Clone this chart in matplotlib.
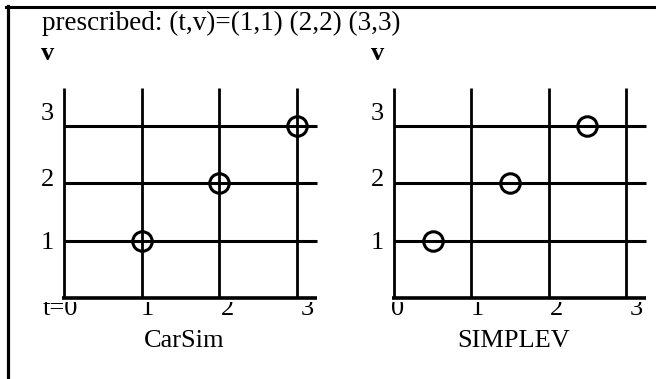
import matplotlib
matplotlib.use("Agg")
import matplotlib.pyplot as plt
from matplotlib.patches import Rectangle
from matplotlib.lines import Line2D
import matplotlib.transforms as mtransforms

# ---------------- data ----------------
title_text = "prescribed: (t,v)=(1,1) (2,2) (3,3)"
panel_names = ["CarSim", "SIMPLEV"]
grid_t = [0, 1, 2, 3]
grid_v = [1, 2, 3]
ytick_labels = ["1", "2", "3"]
xtick_labels_left = ["t=0", "1", "2", "3"]
xtick_labels_right = ["0", "1", "2", "3"]
carsim_t = [1, 2, 3]
carsim_v = [1, 2, 3]
simplev_t = [0.5, 1.5, 2.5]
simplev_v = [1, 2, 3]

# ---------------- layout ----------------
W, H = 656, 379
DPI = 100
FONT = "Liberation Serif"
FS = 19
YTICK_NUDGE_PX = [-2, 3, 12]   # small vertical nudges of the y tick labels (scan look)

fig = plt.figure(figsize=(W / DPI, H / DPI), dpi=DPI)
fig.patch.set_facecolor("white")

XLIM = (-0.6, 3.5)
YLIM = (-0.6, 3.9)


def place_axes(x0px, x3px, y0px, y3px):
    sx = (x3px - x0px) / 3.0
    sy = (y0px - y3px) / 3.0
    left = x0px + XLIM[0] * sx
    right = x0px + XLIM[1] * sx
    top = y0px - YLIM[1] * sy
    bottom = y0px - YLIM[0] * sy
    ax = fig.add_axes([left / W, 1 - bottom / H, (right - left) / W, (bottom - top) / H])
    ax.set_xlim(*XLIM)
    ax.set_ylim(*YLIM)
    ax.axis("off")
    return ax


clip_rect = Rectangle((0, 0), 1, 1 - 301.5 / H, transform=fig.transFigure,
                      facecolor="none", edgecolor="none")


def draw_panel(ax, t, v, name, xlabels, x0px):
    # grid lines
    ax.vlines(grid_t, 0, 3.66, colors="black", lw=2.0, clip_on=False)
    ax.hlines(grid_v, 0, 3.26, colors="black", lw=2.2, clip_on=False)
    ax.hlines([0], -0.02, 3.26, colors="black", lw=2.6, clip_on=False)
    # points
    ax.plot(t, v, "o", mfc="none", mec="black", ms=14, mew=2.2, clip_on=False)
    # y tick labels
    for val, lab, nud in zip(grid_v, ytick_labels, YTICK_NUDGE_PX):
        off_y = mtransforms.offset_copy(ax.transData, fig=fig, x=-10, y=nud, units="dots")
        ax.text(0, val, lab, transform=off_y, ha="right", va="center",
                fontsize=FS, family=FONT)
    # x tick labels (tops hidden by the axis line, as in the original)
    for val, lab in zip(grid_t, xtick_labels_left if xlabels == "left" else xtick_labels_right):
        if lab.startswith("t="):
            off = mtransforms.offset_copy(ax.transData, fig=fig, x=14, y=-17, units="dots")
            txt = ax.text(val, 0, lab, transform=off, ha="right", va="baseline",
                          fontsize=FS, family=FONT, clip_on=True)
        else:
            off = mtransforms.offset_copy(ax.transData, fig=fig, x=4 + 2 * val, y=-17, units="dots")
            txt = ax.text(val, 0, lab, transform=off, ha="center", va="baseline",
                          fontsize=FS, family=FONT, clip_on=True)
        txt.set_clip_path(clip_rect)
    # "v" axis label
    fig.text((x0px - 16) / W, 1 - 60 / H, "v", ha="center", va="baseline",
             fontsize=FS, family=FONT, fontweight="bold")
    # panel name
    off_n = mtransforms.offset_copy(ax.transData, fig=fig, x=0, y=-49, units="dots")
    ax.text(1.55, 0, name, transform=off_n, ha="center", va="baseline",
            fontsize=FS, family=FONT)


ax_left = place_axes(64, 297, 298, 126)
ax_right = place_axes(394, 626, 298, 126)

draw_panel(ax_left, carsim_t, carsim_v, panel_names[0], "left", 64)
draw_panel(ax_right, simplev_t, simplev_v, panel_names[1], "right", 394)

# outer frame (left and top rules)
fig.add_artist(Line2D([7.5 / W, 7.5 / W], [1 - 6 / H, 0], transform=fig.transFigure,
                      color="black", lw=2.3))
fig.add_artist(Line2D([6 / W, 1], [1 - 7 / H, 1 - 7 / H], transform=fig.transFigure,
                      color="black", lw=2.2))

# title
fig.text(42 / W, 1 - 30 / H, title_text, ha="left", va="baseline",
         fontsize=19.5, family=FONT)

fig.savefig("out.png", dpi=DPI)
